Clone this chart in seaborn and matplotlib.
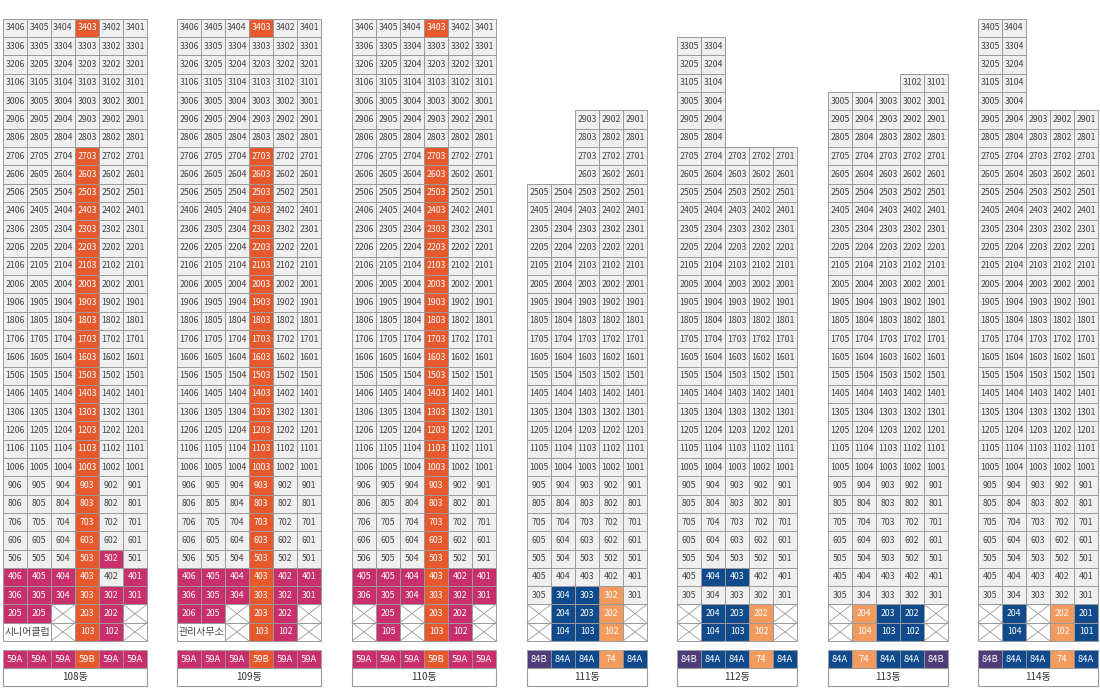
import matplotlib
matplotlib.use("Agg")
import matplotlib.pyplot as plt
import seaborn as sns

sns.set_theme(style="white")
plt.rcParams["font.family"] = ["Noto Sans CJK JP", "Noto Sans CJK KR", "Noto Sans CJK SC", "DejaVu Sans"]

# ---------------- data ----------------
buildings = ["108동", "109동", "110동", "111동", "112동", "113동", "114동"]
building_left = [3, 177, 352, 527, 677, 828, 978]
columns = {
    "108동": ["06", "05", "04", "03", "02", "01"],
    "109동": ["06", "05", "04", "03", "02", "01"],
    "110동": ["06", "05", "04", "03", "02", "01"],
    "111동": ["05", "04", "03", "02", "01"],
    "112동": ["05", "04", "03", "02", "01"],
    "113동": ["05", "04", "03", "02", "01"],
    "114동": ["05", "04", "03", "02", "01"],
}
top_floor = {
    "108동": [34, 34, 34, 34, 34, 34],
    "109동": [34, 34, 34, 34, 34, 34],
    "110동": [34, 34, 34, 34, 34, 34],
    "111동": [25, 25, 29, 29, 29],
    "112동": [33, 33, 27, 27, 27],
    "113동": [30, 30, 30, 31, 31],
    "114동": [34, 34, 29, 29, 29],
}
unit_types = {
    "108동": ["59A", "59A", "59A", "59B", "59A", "59A"],
    "109동": ["59A", "59A", "59A", "59B", "59A", "59A"],
    "110동": ["59A", "59A", "59A", "59B", "59A", "59A"],
    "111동": ["84B", "84A", "84A", "74", "84A"],
    "112동": ["84B", "84A", "84A", "74", "84A"],
    "113동": ["84A", "74", "84A", "84A", "84B"],
    "114동": ["84B", "84A", "84A", "74", "84A"],
}
# orange (59B) floors of column 03 in 108-110
orange_floors = list(range(1, 28)) + [34]
# low-floor overrides: (floor, column index) -> kind [, label]
special = {
    "108동": {(4, 0): "m", (4, 1): "m", (4, 2): "m", (4, 5): "m",
              (3, 0): "m", (3, 1): "m", (3, 2): "m", (3, 4): "m", (3, 5): "m",
              (5, 4): "m",
              (2, 0): ("m", "205"), (2, 1): "m", (2, 2): "x", (2, 4): "m", (2, 5): "x",
              (1, 0): ("w2", "시니어클럽"), (1, 1): "skip", (1, 2): "x", (1, 4): "m", (1, 5): "x"},
    "109동": {(4, 0): "m", (4, 1): "m", (4, 2): "m", (4, 4): "m", (4, 5): "m",
              (3, 0): "m", (3, 1): "m", (3, 2): "m", (3, 4): "m", (3, 5): "m",
              (2, 0): "m", (2, 1): "m", (2, 2): "x", (2, 4): "m", (2, 5): "x",
              (1, 0): ("w2", "관리사무소"), (1, 1): "skip", (1, 2): "x", (1, 4): "m", (1, 5): "x"},
    "110동": {(4, 0): ("m", "405"), (4, 1): "m", (4, 2): "m", (4, 4): "m", (4, 5): "m",
              (3, 0): "m", (3, 1): "m", (3, 2): "m", (3, 4): "m", (3, 5): "m",
              (2, 0): "x", (2, 1): "m", (2, 2): "x", (2, 4): "m", (2, 5): "x",
              (1, 0): "x", (1, 1): "m", (1, 2): "x", (1, 4): "m", (1, 5): "x"},
    "111동": {(3, 1): "b", (3, 2): "b", (3, 3): "lo",
              (2, 0): "x", (2, 1): "b", (2, 2): "b", (2, 3): "lo", (2, 4): "x",
              (1, 0): "x", (1, 1): "b", (1, 2): "b", (1, 3): "lo", (1, 4): "x"},
    "112동": {(4, 1): "b", (4, 2): "b",
              (2, 0): "x", (2, 1): "b", (2, 2): "b", (2, 3): "lo", (2, 4): "x",
              (1, 0): "x", (1, 1): "b", (1, 2): "b", (1, 3): "lo", (1, 4): "x"},
    "113동": {(2, 0): "x", (2, 1): "lo", (2, 2): "b", (2, 3): "b", (2, 4): "x",
              (1, 0): "x", (1, 1): "lo", (1, 2): "b", (1, 3): "b", (1, 4): "x"},
    "114동": {(2, 0): "x", (2, 1): "b", (2, 2): "x", (2, 3): "lo", (2, 4): "b",
              (1, 0): "x", (1, 1): "b", (1, 2): "x", (1, 3): "lo", (1, 4): "b"},
}
type_colors = {"59A": "#c92f6b", "59B": "#e8582d", "84A": "#0f4a8c",
               "84B": "#4e3d78", "74": "#f39a5e"}

# ---------------- styling ----------------
fill = {"g": "#efefef", "m": "#c92f6b", "o": "#e8582d", "lo": "#f39a5e",
        "b": "#0f4a8c", "x": "white", "w2": "white"}
cw, rh = 24, 18.3
base = 641
fs = 6.3

fig = plt.figure(figsize=(11, 6.92), dpi=100)
ax = fig.add_axes([0, 0, 1, 1])
ax.set_xlim(0, 1100)
ax.set_ylim(692, 0)
ax.axis("off")

for b, left in zip(buildings, building_left):
    cols = columns[b]
    for ci, suf in enumerate(cols):
        for fl in range(1, top_floor[b][ci] + 1):
            kind = "g"
            label = f"{fl}{suf}"
            if b in ("108동", "109동", "110동") and suf == "03" and fl in orange_floors:
                kind = "o"
            sp = special[b].get((fl, ci))
            if sp == "skip":
                continue
            if sp is not None:
                if isinstance(sp, tuple):
                    kind, label = sp
                else:
                    kind = sp
            x = left + ci * cw
            y = base - fl * rh
            w = cw * 2 if kind == "w2" else cw
            ax.bar(x, rh, bottom=y, width=w, align="edge", color=fill[kind],
                   edgecolor="#9a9a9a", linewidth=0.7)
            if kind == "x":
                ax.plot([x, x + w], [y, y + rh], color="#9a9a9a", lw=0.6)
                ax.plot([x, x + w], [y + rh, y], color="#9a9a9a", lw=0.6)
                continue
            tc = "#444444" if kind in ("g", "w2") else "white"
            ax.text(x + w / 2, y + rh / 2, label, ha="center", va="center",
                    fontsize=fs if kind != "w2" else 7.2, color=tc)
    # type bar
    for ci, t in enumerate(unit_types[b]):
        x = left + ci * cw
        ax.bar(x, 18, bottom=650, width=cw, align="edge", color=type_colors[t],
               edgecolor="#9a9a9a", linewidth=0.5)
        ax.text(x + cw / 2, 659, t, ha="center", va="center", fontsize=6.8, color="white")
    tw = cw * len(cols)
    ax.bar(left, 18, bottom=668, width=tw, align="edge", color="white",
           edgecolor="#9a9a9a", linewidth=0.8)
    ax.text(left + tw / 2, 677, b, ha="center", va="center", fontsize=7.2, color="#333333")

fig.savefig("out.png", dpi=100)
